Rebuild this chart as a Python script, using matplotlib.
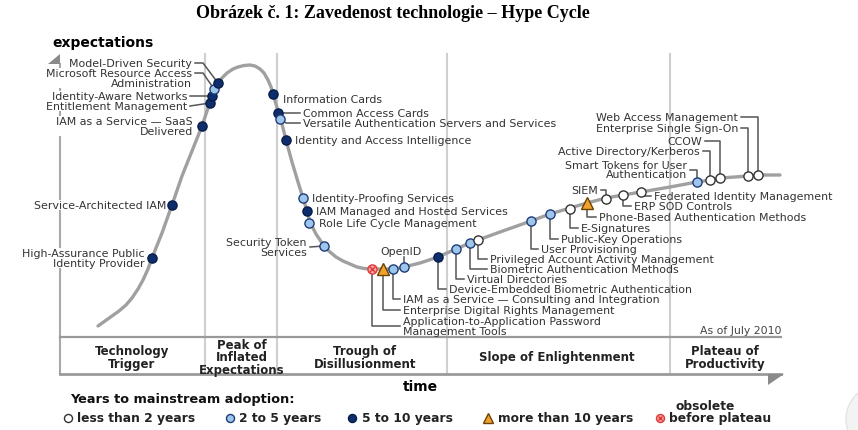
import matplotlib
matplotlib.use('Agg')
import matplotlib.pyplot as plt
from matplotlib.patches import Polygon, Circle

plt.rcParams['font.family'] = ['DejaVu Sans']

# ---------------- data (pixel-like chart units) -------------
curve_x = [98, 105, 112, 119, 126, 132, 138, 143, 148, 152, 162, 172, 182, 192, 202,
           210, 213, 218, 222, 227, 233, 238, 244, 250, 255, 260, 264, 268, 271, 273,
           278, 282, 286, 292, 298, 303, 307, 310, 316, 324, 330, 336, 343, 350, 357,
           364, 372, 385, 395, 404, 420, 438, 456, 470, 478, 500, 531, 550, 570, 587,
           606, 623, 641, 670, 697, 710, 720, 735, 748, 758, 780]
curve_y = [327, 322, 317, 312, 306, 299, 290, 281, 270, 259, 234, 206, 177, 152, 127,
           103, 94, 84, 79, 74, 70, 68, 66.5, 66, 67, 70, 74, 81, 88, 95,
           112, 125, 141, 163, 183, 199, 212, 223, 235, 247, 253, 258, 262, 265, 268,
           269.5, 270, 270, 270, 268, 264, 258, 250, 244, 241, 233, 222, 215, 209, 204,
           199, 196, 193, 188, 183, 181, 179, 178, 177, 176, 176]

tech_names = [
    "High-Assurance Public\nIdentity Provider",
    "Service-Architected IAM",
    "IAM as a Service \u2014 SaaS\nDelivered",
    "Entitlement Management",
    "Identity-Aware Networks",
    "Microsoft Resource Access\nAdministration",
    "Model-Driven Security",
    "Information Cards",
    "Common Access Cards",
    "Versatile Authentication Servers and Services",
    "Identity and Access Intelligence",
    "Identity-Proofing Services",
    "IAM Managed and Hosted Services",
    "Role Life Cycle Management",
    "Security Token\nServices",
    "Application-to-Application Password\nManagement Tools",
    "Enterprise Digital Rights Management",
    "IAM as a Service \u2014 Consulting and Integration",
    "OpenID",
    "Device-Embedded Biometric Authentication",
    "Virtual Directories",
    "Biometric Authentication Methods",
    "Privileged Account Activity Management",
    "User Provisioning",
    "Public-Key Operations",
    "E-Signatures",
    "Phone-Based Authentication Methods",
    "SIEM",
    "ERP SOD Controls",
    "Federated Identity Management",
    "Smart Tokens for User\nAuthentication",
    "Active Directory/Kerberos",
    "CCOW",
    "Enterprise Single Sign-On",
    "Web Access Management",
]
tech_x = [152, 172, 202, 210, 212, 214, 218, 273, 278, 280, 286, 303, 307, 309, 324,
          372, 383, 393, 404, 438, 456, 470, 478, 531, 550, 570, 587, 606, 623, 641,
          697, 710, 720, 748, 758]
tech_y = [259, 206, 127, 104, 97, 90, 84, 95, 114, 120, 141, 199, 212, 224, 247,
          270, 270, 270, 268, 258, 250, 244, 241, 222, 215, 210, 204, 200, 196, 193,
          183, 181, 179, 177, 176]
tech_cat = ['5-10', '5-10', '5-10', '5-10', '5-10', '2-5', '5-10', '5-10', '5-10', '2-5',
            '5-10', '2-5', '5-10', '2-5', '2-5', 'obs', '>10', '2-5', '2-5', '5-10',
            '2-5', '2-5', '<2', '2-5', '2-5', '<2', '>10', '<2', '<2', '<2',
            '2-5', '<2', '<2', '<2', '<2']

phase_names = ['Technology\nTrigger', 'Peak of\nInflated\nExpectations',
               'Trough of\nDisillusionment', 'Slope of Enlightenment',
               'Plateau of\nProductivity']
legend_cats = ['<2', '2-5', '5-10', '>10', 'obs']
legend_labels = ['less than 2 years', '2 to 5 years', '5 to 10 years',
                 'more than 10 years', 'before plateau']

# ---------------- layout (label placement) -----------------------------------------
# name -> (label x, label y, ha, leader kind, leader y)
layout = {
    "High-Assurance Public\nIdentity Provider": (145, 259, 'right', None, 0),
    "Service-Architected IAM": (166, 206, 'right', None, 0),
    "IAM as a Service \u2014 SaaS\nDelivered": (193, 127, 'right', None, 0),
    "Entitlement Management": (187, 107, 'right', 'straight', 107),
    "Identity-Aware Networks": (187, 97, 'right', 'straight', 97),
    "Microsoft Resource Access\nAdministration": (192, 79, 'right', 'diag', 74),
    "Model-Driven Security": (192, 64, 'right', 'diag', 64),
    "Information Cards": (283, 100, 'left', None, 0),
    "Common Access Cards": (303, 114, 'left', 'hleft', 114),
    "Versatile Authentication Servers and Services": (303, 124, 'left', 'hleft', 124),
    "Identity and Access Intelligence": (295, 141, 'left', None, 0),
    "Identity-Proofing Services": (312, 199, 'left', None, 0),
    "IAM Managed and Hosted Services": (316, 212, 'left', None, 0),
    "Role Life Cycle Management": (319, 224, 'left', None, 0),
    "Security Token\nServices": (307, 248, 'right', 'straight', 248),
    "Application-to-Application Password\nManagement Tools": (403, 327, 'left', 'down', 327),
    "Enterprise Digital Rights Management": (403, 311, 'left', 'down', 311),
    "IAM as a Service \u2014 Consulting and Integration": (403, 300, 'left', 'down', 300),
    "OpenID": (401, 252, 'center', 'vert', 258),
    "Device-Embedded Biometric Authentication": (449, 290, 'left', 'down', 290),
    "Virtual Directories": (467, 280, 'left', 'down', 280),
    "Biometric Authentication Methods": (490, 270, 'left', 'down', 270),
    "Privileged Account Activity Management": (490, 260, 'left', 'down', 260),
    "User Provisioning": (541, 250, 'left', 'down', 250),
    "Public-Key Operations": (561, 240, 'left', 'down', 240),
    "E-Signatures": (581, 229, 'left', 'down', 229),
    "Phone-Based Authentication Methods": (599, 218, 'left', 'down', 218),
    "SIEM": (598, 191, 'right', 'hook', 191),
    "ERP SOD Controls": (634, 207, 'left', 'down', 207),
    "Federated Identity Management": (654, 197, 'left', 'down', 197),
    "Smart Tokens for User\nAuthentication": (687, 170.5, 'right', 'hook', 171),
    "Active Directory/Kerberos": (700, 152, 'right', 'hook', 152),
    "CCOW": (702, 142, 'right', 'hook', 142),
    "Enterprise Single Sign-On": (738, 129, 'right', 'hook', 129),
    "Web Access Management": (738, 118, 'right', 'hook', 118),
}

styles = {
    '<2': dict(marker='o', mfc='white', mec='#333333', ms=6.6),
    '2-5': dict(marker='o', mfc='#9ec5ea', mec='#1e3c78', ms=6.6),
    '5-10': dict(marker='o', mfc='#0d2d6c', mec='#081c48', ms=6.6),
    '>10': dict(marker='^', mfc='#f0a22c', mec='#6a4300', ms=8),
    'obs': dict(marker='o', mfc='#f6a5a5', mec='#e03a3a', ms=6.6),
}

TXT = '#333333'
LEAD = '#555555'
LS = 7.95

fig = plt.figure(figsize=(8.58, 4.31), dpi=100)
ax = fig.add_axes([0, 0, 1, 1])
ax.set_xlim(0, 858)
ax.set_ylim(431, 0)
ax.axis('off')

# title
ax.text(393, 14, "Obr\u00e1zek \u010d. 1: Zavedenost technologie \u2013 Hype Cycle",
        ha='center', va='center', fontsize=13, fontweight='bold',
        family='Liberation Serif', color='black')

# axes frame
ax.text(52, 43, 'expectations', ha='left', va='center', fontsize=10,
        fontweight='bold', color='black')
ax.add_patch(Polygon([(60, 55), (60, 65), (48, 65)], closed=True,
                     fc='#8a8a8a', ec='none', zorder=2))
ax.plot([60, 60], [65, 375], color='#a8a8a8', lw=1.5, zorder=1)
phase_bounds = [60, 205, 277, 447, 670, 781]
for xb in phase_bounds[1:-1]:
    ax.plot([xb, xb], [55, 375], color='#cfcfcf', lw=1.5, zorder=1)
ax.plot([60, 781], [338, 338], color='#9a9a9a', lw=1.6, zorder=1)
ax.plot([60, 781], [375, 375], color='#9a9a9a', lw=2, zorder=1)
ax.add_patch(Polygon([(784, 375), (768, 375), (768, 386)], closed=True,
                     fc='#8a8a8a', ec='none', zorder=2))
phase_cx = [132, 242, 365, 557, 725]
for name, cx in zip(phase_names, phase_cx):
    ax.text(cx, 358, name, ha='center', va='center', fontsize=8.5,
            fontweight='bold', color='#222222', linespacing=0.93)
ax.text(420, 387, 'time', ha='center', va='center', fontsize=10,
        fontweight='bold', color='black')
ax.text(782, 331, 'As of July 2010', ha='right', va='center', fontsize=7.8,
        color='#444444')

# hype curve
ax.plot(curve_x, curve_y, color='#a0a0a0', lw=2.4, solid_capstyle='round',
        solid_joinstyle='round', zorder=3)

# labels + leaders
for name, x, y in zip(tech_names, tech_x, tech_y):
    lx, ly, ha, kind, lyy = layout[name]
    bbox = None
    if ha == 'right' and lx < 200:
        bbox = dict(facecolor='white', edgecolor='none', pad=0.3)
    ax.text(lx, ly, name, ha=ha, va='center', fontsize=LS, color=TXT,
            linespacing=0.88, multialignment=ha if ha != 'center' else 'center',
            bbox=bbox, zorder=4)
    pts = None
    if kind == 'diag':
        pts = [(lx + 3, lyy), (lx + 11, lyy), (x, y)]
    elif kind == 'straight':
        pts = [(lx + 3, lyy), (x, y)]
    elif kind == 'hleft':
        pts = [(x, y), (x + 6, lyy), (lx - 3, lyy)]
    elif kind == 'vert':
        pts = [(x, lyy), (x, y)]
    elif kind == 'down':
        pts = [(x, y), (x, lyy), (lx - 3, lyy)]
    elif kind == 'hook':
        pts = [(lx + 3, lyy), (x, lyy), (x, y)]
    if pts:
        ax.plot([p[0] for p in pts], [p[1] for p in pts], color=LEAD, lw=1.1,
                zorder=5)

# technology markers
for x, y, c in zip(tech_x, tech_y, tech_cat):
    st = styles[c]
    ax.plot([x], [y], linestyle='none', marker=st['marker'], ms=st['ms'],
            mfc=st['mfc'], mec=st['mec'], mew=1.0, zorder=6)
    if c == 'obs':
        ax.plot([x], [y], linestyle='none', marker='x', ms=4, mec='#e03a3a',
                mew=1.0, zorder=7)

# legend
ax.text(70, 400, 'Years to mainstream adoption:', ha='left', va='center',
        fontsize=9.3, fontweight='bold', color='#111111')
leg_mx = [68, 230, 352, 488, 660]
leg_tx = [77, 239, 362, 498, 669]
for c, lab, mx, tx in zip(legend_cats, legend_labels, leg_mx, leg_tx):
    st = styles[c]
    ax.plot([mx], [419], linestyle='none', marker=st['marker'],
            ms=st['ms'] - 0.8, mfc=st['mfc'], mec=st['mec'], mew=1.0)
    if c == 'obs':
        ax.plot([mx], [419], linestyle='none', marker='x', ms=3.5,
                mec='#e03a3a', mew=1.0)
    ax.text(tx, 419, lab, ha='left', va='center', fontsize=8.8,
            fontweight='bold', color='#222222')
ax.text(675, 407, 'obsolete', ha='left', va='center', fontsize=8.8,
        fontweight='bold', color='#222222')

# faint corner artefact
ax.add_patch(Circle((880, 420), 34, fc='#f3f3f3', ec='#e4e4e4', lw=1, zorder=0))

fig.savefig('out.png', dpi=100, facecolor='white')
